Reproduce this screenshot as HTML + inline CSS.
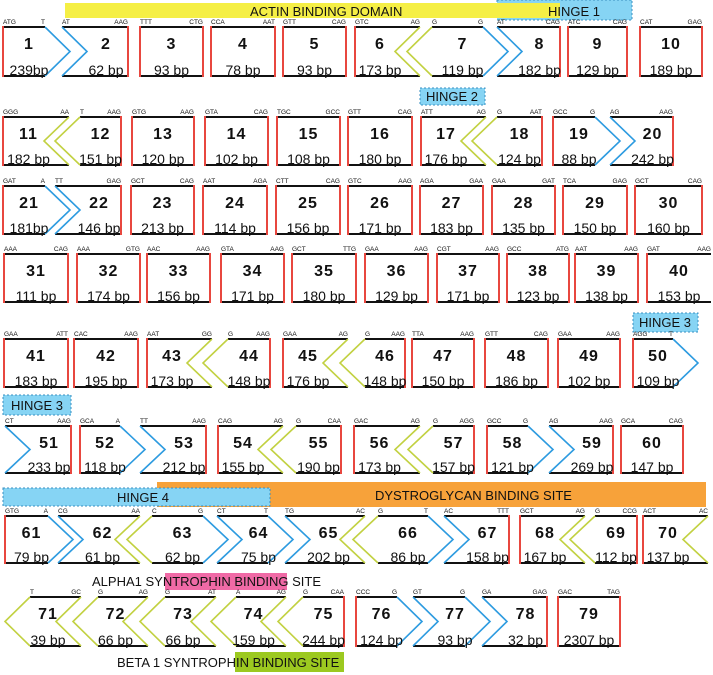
<!DOCTYPE html>
<html><head><meta charset="utf-8">
<style>
html,body{margin:0;padding:0;background:#fff;}
svg{display:block;}
text{font-family:"Liberation Sans",Arial,sans-serif;}
</style></head>
<body>
<svg id="s" width="713" height="675" viewBox="0 0 713 675" xmlns="http://www.w3.org/2000/svg">
<rect x="497" y="0" width="135" height="20" fill="#86d4f4" stroke="#3a8fc0" stroke-width="1" stroke-dasharray="2,2"/>
<rect x="65" y="3" width="495" height="15" fill="#f5ef45"/>
<text x="250" y="16" font-size="13" fill="#111">ACTIN BINDING DOMAIN</text>
<text x="548" y="16" font-size="13" fill="#111">HINGE 1</text>
<rect x="420" y="88" width="65" height="17" fill="#86d4f4" stroke="#3a8fc0" stroke-width="1" stroke-dasharray="2,2"/>
<text x="452" y="101" font-size="13" fill="#111" text-anchor="middle">HINGE 2</text>
<rect x="633" y="313" width="65" height="19" fill="#86d4f4" stroke="#3a8fc0" stroke-width="1" stroke-dasharray="2,2"/>
<text x="665" y="327" font-size="13" fill="#111" text-anchor="middle">HINGE 3</text>
<rect x="3" y="395" width="68" height="20" fill="#86d4f4" stroke="#3a8fc0" stroke-width="1" stroke-dasharray="2,2"/>
<text x="37" y="410" font-size="13" fill="#111" text-anchor="middle">HINGE 3</text>
<rect x="157" y="482" width="549" height="25" fill="#f7a23a"/>
<rect x="3" y="488" width="267" height="18" fill="#86d4f4" stroke="#3a8fc0" stroke-width="1" stroke-dasharray="2,2"/>
<text x="117" y="502" font-size="13" fill="#111">HINGE 4</text>
<text x="375" y="500" font-size="13" fill="#111">DYSTROGLYCAN BINDING SITE</text>
<rect x="165" y="573" width="122" height="17" fill="#f06aa6"/>
<text x="92" y="586" font-size="13" fill="#111">ALPHA1 SYNTROPHIN BINDING SITE</text>
<rect x="235" y="652" width="109" height="20" fill="#9cc920"/>
<text x="117" y="667" font-size="13" fill="#111">BETA 1 SYNTROPHIN BINDING SITE</text>
<g id="ex"></g>
</svg>
<script>
var rows=[
[27,76,[
[1,'f',3,'bo',45,'ATG','T','239bp'],
[2,'bi',62,'f',128,'AT','AAG','62 bp'],
[3,'f',140,'f',203,'TTT','CTG','93 bp'],
[4,'f',211,'f',275,'CCA','AAT','78 bp'],
[5,'f',283,'f',346,'GTT','CAG','93 bp'],
[6,'f',355,'gi',420,'GTC','AG','173 bp'],
[7,'go',432,'bo',483,'G','G','119 bp'],
[8,'bi',497,'f',560,'AT','CAG','182 bp'],
[9,'f',568,'f',627,'ATC','CAG','129 bp'],
[10,'f',640,'f',702,'CAT','GAG','189 bp']]],
[117,165,[
[11,'f',3,'gi',69,'GGG','AA','182 bp'],
[12,'go',80,'f',121,'T','AAG','151 bp'],
[13,'f',132,'f',194,'GTG','AAG','120 bp'],
[14,'f',205,'f',268,'GTA','CAG','102 bp'],
[15,'f',277,'f',340,'TGC','GCC','108 bp'],
[16,'f',348,'f',412,'GTT','CAG','180 bp'],
[17,'f',421,'gi',486,'ATT','AG','176 bp'],
[18,'go',497,'f',542,'G','AAT','124 bp'],
[19,'f',553,'bo',595,'GCC','G','88 bp'],
[20,'bi',610,'f',673,'AG','AAG','242 bp']]],
[186,234,[
[21,'f',3,'bo',45,'GAT','A','181bp'],
[22,'bi',55,'f',121,'TT','GAG','146 bp'],
[23,'f',131,'f',194,'GCT','CAG','213 bp'],
[24,'f',203,'f',267,'AAT','AGA','114 bp'],
[25,'f',276,'f',340,'CTT','CAG','156 bp'],
[26,'f',348,'f',412,'GTC','AAG','171 bp'],
[27,'f',420,'f',483,'AGA','GAA','183 bp'],
[28,'f',492,'f',555,'GAA','GAT','135 bp'],
[29,'f',563,'f',627,'TCA','GAG','150 bp'],
[30,'f',635,'f',702,'GCT','CAG','160 bp']]],
[254,302,[
[31,'f',4,'f',68,'AAA','CAG','111 bp'],
[32,'f',77,'f',140,'AAA','GTG','174 bp'],
[33,'f',147,'f',210,'AAC','AAG','156 bp'],
[34,'f',221,'f',284,'GTA','AAG','171 bp'],
[35,'f',292,'f',356,'GCT','TTG','180 bp'],
[36,'f',365,'f',428,'GAA','AAG','129 bp'],
[37,'f',437,'f',499,'CGT','AAG','171 bp'],
[38,'f',507,'f',569,'GCC','ATG','123 bp'],
[39,'f',575,'f',638,'AAT','AAG','138 bp'],
[40,'f',647,'n',711,'GAT','AAG','153 bp']]],
[339,387,[
[41,'f',4,'f',68,'GAA','ATT','183 bp'],
[42,'f',74,'f',138,'CAC','AAG','195 bp'],
[43,'f',147,'gi',212,'AAT','GG','173 bp'],
[44,'go',228,'f',270,'G','AAG','148 bp'],
[45,'f',283,'gi',348,'GAA','AG','176 bp'],
[46,'go',365,'f',405,'G','AAG','148 bp'],
[47,'f',412,'f',474,'TTA','AAG','150 bp'],
[48,'f',485,'f',548,'GTT','CAG','186 bp'],
[49,'f',558,'f',620,'GAA','AAG','102 bp'],
[50,'f',633,'bo',673,'AGG','T','109 bp']]],
[426,473,[
[51,'bi',5,'f',71,'CT','AAG','233 bp'],
[52,'f',80,'bo',120,'GCA','A','118 bp'],
[53,'bi',140,'f',206,'TT','AAG','212 bp'],
[54,'f',218,'gi',283,'CAG','AG','155 bp'],
[55,'go',296,'f',341,'G','CAA','190 bp'],
[56,'f',354,'gi',420,'GAC','AG','173 bp'],
[57,'go',433,'f',474,'G','AGG','157 bp'],
[58,'f',487,'bo',528,'GCC','G','121 bp'],
[59,'bi',549,'f',613,'AG','AAG','269 bp'],
[60,'f',621,'f',683,'GCA','CAG','147 bp']]],
[516,563,[
[61,'f',5,'bo',48,'GTG','A','79 bp'],
[62,'bi',58,'gi',140,'CG','AA','61 bp'],
[63,'go',152,'bo',203,'C','G','62 bp'],
[64,'bi',217,'bo',268,'CT','T','75 bp'],
[65,'bi',285,'gi',365,'TG','AC','202 bp'],
[66,'go',378,'bo',428,'G','T','86 bp'],
[67,'bi',444,'f',509,'AC','TTT','158 bp'],
[68,'f',520,'gi',585,'GCT','AG','167 bp'],
[69,'go',595,'f',637,'G','CCG','112 bp'],
[70,'f',643,'gi',708,'ACT','AC','137 bp']]],
[597,646,[
[71,'go',30,'gi',81,'T','GC','39 bp'],
[72,'go',98,'gi',148,'G','AG','66 bp'],
[73,'go',165,'gi',216,'G','AT','66 bp'],
[74,'go',236,'gi',286,'A','AG','159 bp'],
[75,'go',303,'f',344,'G','CAA','244 bp'],
[76,'f',356,'bo',397,'CCC','G','124 bp'],
[77,'bi',413,'bo',465,'GT','G','93 bp'],
[78,'bi',482,'f',547,'GA','GAG','32 bp'],
[79,'f',558,'f',620,'GAC','TAG','2307 bp']]]
];
var NS='http://www.w3.org/2000/svg',g=document.getElementById('ex');
function el(t,a,txt){var e=document.createElementNS(NS,t);for(var k in a)e.setAttribute(k,a[k]);if(txt!==undefined)e.textContent=txt;g.appendChild(e);return e;}
var D=25,RED='#e8473f',BLU='#2d9be0',GRN='#c2d141';
rows.forEach(function(r){
 var t=r[0],b=r[1],m=(t+b)/2;
 r[2].forEach(function(e){
  var n=e[0],lt=e[1],xl=e[2],rt=e[3],xr=e[4];
  el('line',{x1:xl,y1:t,x2:xr,y2:t,stroke:'#111','stroke-width':2});
  el('line',{x1:xl,y1:b,x2:xr,y2:b,stroke:'#111','stroke-width':2});
  function edge(type,x){
   if(type==='f')el('line',{x1:x,y1:t-1,x2:x,y2:b+1,stroke:RED,'stroke-width':2});
   else if(type==='bo'||type==='bi')el('polyline',{points:x+','+t+' '+(x+D)+','+m+' '+x+','+b,fill:'none',stroke:BLU,'stroke-width':1.6});
   else if(type==='gi'||type==='go')el('polyline',{points:x+','+t+' '+(x-D)+','+m+' '+x+','+b,fill:'none',stroke:GRN,'stroke-width':1.6});
  }
  edge(lt,xl);edge(rt,xr);
  var lv=xl+(lt==='bi'?22:0), rv=xr+(rt==='bo'?10:0)-(rt==='gi'?15:0);
  var c=(lv+rv)/2;
  el('text',{x:xl,y:t-3,'font-size':6.5,fill:'#111'},e[5]);
  el('text',{x:xr,y:t-3,'font-size':6.5,fill:'#111','text-anchor':'end'},e[6]);
  el('text',{x:c,y:t+22,'font-size':16,'font-weight':'bold',fill:'#111','text-anchor':'middle','letter-spacing':'1'},n);
  el('text',{x:c,y:b-1,'font-size':14,fill:'#111','text-anchor':'middle'},e[7]);
 });
});
</script>
</body></html>
